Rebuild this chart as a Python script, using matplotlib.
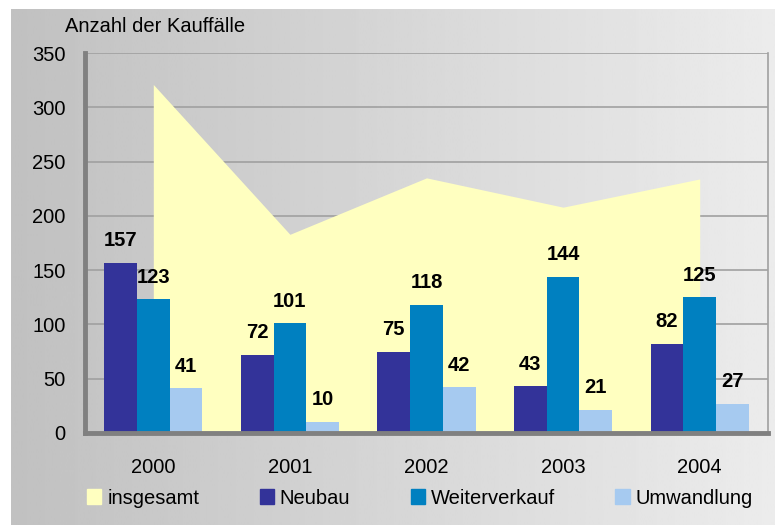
import matplotlib.pyplot as plt
import numpy as np
from matplotlib.patches import Patch

plt.rcParams['font.family'] = ['Liberation Sans', 'DejaVu Sans']

years = ["2000", "2001", "2002", "2003", "2004"]
neubau = [157, 72, 75, 43, 82]
weiterverkauf = [123, 101, 118, 144, 125]
umwandlung = [41, 10, 42, 21, 27]
insgesamt = [321, 183, 235, 208, 234]

W, H = 775, 525
fig = plt.figure(figsize=(W / 100, H / 100), dpi=100)

# grey gradient background (left dark -> right light)
bg = fig.add_axes([11 / W, 0, 1 - 11 / W, 1 - 9 / H], zorder=0)
grad = np.linspace(0.755, 0.925, 256).reshape(1, -1)
bg.imshow(grad, aspect="auto", cmap="gray", vmin=0, vmax=1, extent=[0, 1, 0, 1])
bg.set_axis_off()

x0, x1, y0, y1 = 85, 768, 433, 53
ax = fig.add_axes([x0 / W, 1 - y0 / H, (x1 - x0) / W, (y0 - y1) / H], zorder=1)
ax.patch.set_alpha(0)

x = np.arange(len(years))
bw = 0.24

ax.fill_between(x, insgesamt, 0, color="#ffffc0", lw=0, zorder=1, label="insgesamt")
b1 = ax.bar(x - bw, neubau, bw, color="#333399", zorder=2, label="Neubau")
b2 = ax.bar(x, weiterverkauf, bw, color="#0080c0", zorder=2, label="Weiterverkauf")
b3 = ax.bar(x + bw, umwandlung, bw, color="#a6caf0", zorder=2, label="Umwandlung")

for bars in (b1, b2, b3):
    for b in bars:
        h = b.get_height()
        ax.annotate(f"{h:.0f}", (b.get_x() + b.get_width() / 2, h),
                    xytext=(0, 16), textcoords="offset points",
                    ha="center", va="center", fontsize=14.5, fontweight="bold", zorder=4)

ax.set_xlim(-0.5, 4.5)
ax.set_ylim(0, 350)
ax.set_yticks(range(0, 351, 50))
ax.set_xticks(x)
ax.set_xticklabels(years)
ax.yaxis.grid(True, color="#a0a0a0", lw=1.2, zorder=0)
ax.set_axisbelow(True)
ax.tick_params(axis="y", length=0, pad=14, labelsize=14.5)
ax.tick_params(axis="x", length=0, pad=18, labelsize=14.5)

ax.spines["top"].set_visible(False)
ax.spines["right"].set_color("#a0a0a0")
ax.spines["right"].set_linewidth(1.2)
ax.spines["left"].set_color("#808080")
ax.spines["left"].set_linewidth(3.5)
ax.spines["bottom"].set_color("#808080")
ax.spines["bottom"].set_linewidth(3.5)

fig.text(65 / W, 1 - 27 / H, "Anzahl der Kauffälle", fontsize=14.5, va="center", ha="left")

handles = [Patch(color="#ffffc0"), Patch(color="#333399"), Patch(color="#0080c0"), Patch(color="#a6caf0")]
labels = ["insgesamt", "Neubau", "Weiterverkauf", "Umwandlung"]
fig.legend(handles, labels, ncol=4, loc="center left", bbox_to_anchor=(87 / W, 1 - 498 / H),
           frameon=False, fontsize=14.5, handlelength=0.7, handleheight=0.7,
           handletextpad=0.3, columnspacing=3.0, borderpad=0, borderaxespad=0)

fig.savefig("out.png", dpi=100)
